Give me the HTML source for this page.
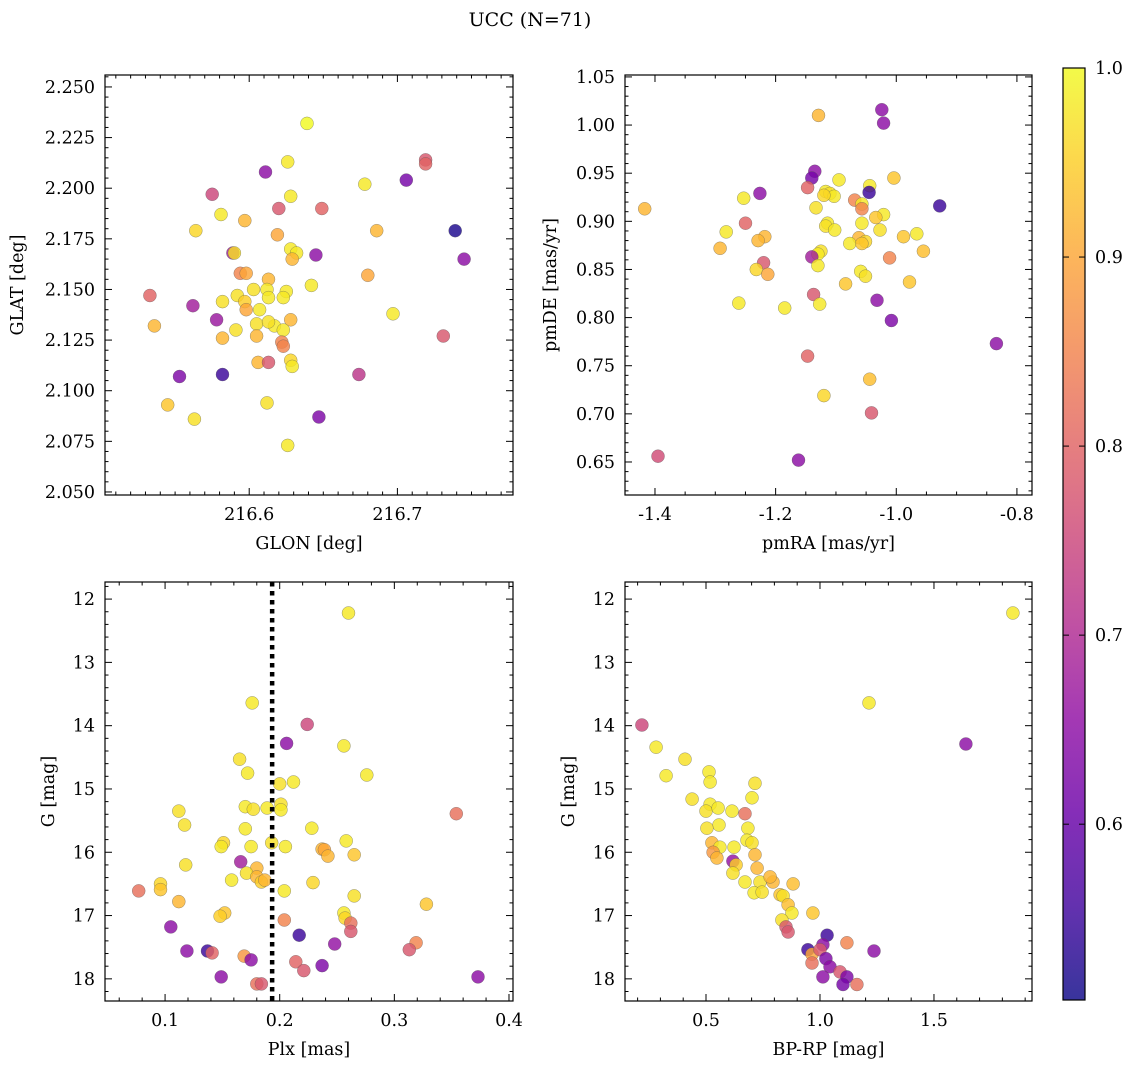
<!DOCTYPE html>
<html><head><meta charset="utf-8"><style>
html,body{margin:0;padding:0;background:#fff;}
svg{display:block;font-family:"DejaVu Serif","Liberation Serif",serif;}
</style></head><body>
<svg id="chart" width="1136" height="1068" viewBox="0 0 1136 1068" xmlns="http://www.w3.org/2000/svg">
<text x="530" y="26" text-anchor="middle" font-size="19">UCC (N=71)</text>
</svg>
<script>
// ---- Panel 1: GLON vs GLAT ----
const glon=[216.639,216.719,216.719,216.611,216.626,216.706,216.678,216.575,216.628,216.620,216.649,216.581,216.597,216.564,216.686,216.739,216.619,216.628,216.632,216.589,216.645,216.745,216.629,216.590,216.594,216.598,216.680,216.613,216.642,216.533,216.592,216.603,216.612,216.625,216.582,216.613,216.623,216.597,216.562,216.598,216.607,216.578,216.628,216.536,216.591,216.605,216.617,216.613,216.623,216.697,216.731,216.582,216.605,216.622,216.623,216.606,216.613,216.628,216.629,216.553,216.582,216.674,216.612,216.545,216.563,216.647,216.626];
const glat=[2.232,2.214,2.212,2.208,2.213,2.204,2.202,2.197,2.196,2.190,2.190,2.187,2.184,2.179,2.179,2.179,2.177,2.170,2.168,2.168,2.167,2.165,2.165,2.168,2.158,2.158,2.157,2.155,2.152,2.147,2.147,2.150,2.150,2.149,2.144,2.146,2.146,2.144,2.142,2.140,2.140,2.135,2.135,2.132,2.130,2.133,2.132,2.134,2.130,2.138,2.127,2.126,2.127,2.124,2.122,2.114,2.114,2.115,2.112,2.107,2.108,2.108,2.094,2.093,2.086,2.087,2.073];
const prob1=[1.0,0.78,0.8,0.65,0.98,0.62,0.98,0.75,0.98,0.78,0.8,0.98,0.92,0.96,0.92,0.52,0.9,0.98,0.98,0.68,0.65,0.65,0.92,0.97,0.85,0.9,0.9,0.92,0.98,0.8,0.97,0.97,0.98,0.98,0.97,0.98,0.98,0.95,0.68,0.9,0.98,0.67,0.92,0.92,0.97,0.97,0.98,0.97,0.98,0.98,0.78,0.92,0.92,0.85,0.85,0.92,0.78,0.96,0.98,0.63,0.55,0.72,0.97,0.94,0.97,0.63,0.98];
// ---- Panel 2: pmRA vs pmDE ----
const pmra=[-1.024,-1.021,-1.129,-1.135,-1.140,-1.147,-1.095,-1.044,-1.004,-1.045,-1.226,-1.253,-1.117,-1.110,-1.103,-1.120,-1.417,-0.928,-1.133,-1.069,-1.057,-1.057,-1.021,-1.034,-1.250,-1.114,-1.057,-1.117,-1.102,-1.027,-1.282,-0.966,-0.988,-1.218,-1.062,-1.051,-1.077,-1.057,-1.229,-1.292,-1.125,-1.130,-0.955,-1.140,-1.011,-1.220,-1.130,-1.232,-1.213,-1.059,-1.051,-1.084,-0.978,-1.137,-1.032,-1.261,-1.127,-1.185,-1.008,-0.834,-1.147,-1.044,-1.120,-1.041,-1.395,-1.162];
const pmde=[1.016,1.002,1.010,0.952,0.945,0.935,0.943,0.937,0.945,0.930,0.929,0.924,0.931,0.929,0.926,0.927,0.913,0.916,0.914,0.922,0.918,0.913,0.907,0.904,0.898,0.898,0.898,0.895,0.891,0.891,0.889,0.887,0.884,0.884,0.883,0.879,0.877,0.877,0.880,0.872,0.869,0.866,0.869,0.863,0.862,0.857,0.854,0.850,0.845,0.848,0.843,0.835,0.837,0.824,0.818,0.815,0.814,0.810,0.797,0.773,0.760,0.736,0.719,0.701,0.656,0.652];
const prob2=[0.65,0.65,0.92,0.65,0.62,0.8,0.98,0.98,0.94,0.55,0.65,0.98,0.98,0.97,0.98,0.96,0.92,0.55,0.97,0.85,0.98,0.85,0.98,0.94,0.8,0.98,0.98,0.97,0.98,0.97,0.98,0.98,0.94,0.92,0.92,0.96,0.98,0.94,0.92,0.92,0.97,0.98,0.93,0.68,0.85,0.78,0.98,0.96,0.9,0.98,0.97,0.94,0.94,0.78,0.65,0.98,0.98,0.98,0.63,0.65,0.8,0.93,0.96,0.78,0.76,0.65];
// ---- Panel 3: Plx vs G ----
const plx=[0.260,0.176,0.224,0.206,0.256,0.165,0.172,0.276,0.212,0.200,0.112,0.170,0.177,0.189,0.201,0.201,0.354,0.117,0.170,0.228,0.151,0.149,0.258,0.175,0.193,0.205,0.237,0.239,0.242,0.265,0.166,0.118,0.180,0.171,0.158,0.180,0.184,0.187,0.229,0.096,0.096,0.077,0.204,0.265,0.112,0.328,0.152,0.148,0.256,0.257,0.204,0.262,0.105,0.262,0.217,0.248,0.319,0.119,0.137,0.141,0.313,0.169,0.175,0.214,0.237,0.221,0.149,0.373,0.180,0.184];
const gmag3=[12.22,13.64,13.98,14.28,14.32,14.53,14.75,14.78,14.89,14.92,15.35,15.28,15.32,15.30,15.24,15.33,15.39,15.57,15.63,15.62,15.85,15.91,15.82,15.91,15.85,15.91,15.95,15.96,16.06,16.04,16.15,16.20,16.25,16.33,16.44,16.39,16.47,16.44,16.48,16.50,16.59,16.61,16.61,16.69,16.78,16.82,16.96,17.01,16.96,17.04,17.07,17.12,17.18,17.25,17.31,17.45,17.43,17.56,17.56,17.59,17.54,17.64,17.70,17.73,17.79,17.87,17.97,17.97,18.08,18.08];
const prob3=[0.98,0.98,0.75,0.65,0.98,0.97,0.98,0.98,0.98,0.97,0.97,0.98,0.97,0.98,0.97,0.98,0.82,0.97,0.98,0.98,0.96,0.98,0.98,0.98,0.97,0.98,0.92,0.9,0.92,0.94,0.68,0.97,0.92,0.97,0.98,0.92,0.95,0.92,0.96,0.96,0.94,0.82,0.98,0.97,0.92,0.94,0.94,0.95,0.98,0.96,0.85,0.82,0.65,0.78,0.55,0.66,0.85,0.65,0.55,0.8,0.78,0.88,0.65,0.8,0.63,0.78,0.65,0.65,0.82,0.78];
const plxMedian=0.1934;
// ---- Panel 4: BP-RP vs G ----
const bprp=[0.219,0.281,0.408,0.325,0.513,0.518,0.715,0.702,0.439,0.518,0.500,0.553,0.614,0.671,0.557,0.504,0.684,0.680,0.702,0.526,0.561,0.623,0.531,0.548,0.618,0.632,0.715,0.724,0.618,0.671,0.737,0.794,0.882,0.781,0.711,0.825,0.746,0.838,0.860,0.877,0.833,0.969,0.851,0.860,1.031,1.013,1.118,0.947,0.965,1.0,0.965,1.026,1.044,1.088,1.237,1.013,1.118,1.101,1.162,1.846,1.215,1.640];
const gmag4=[13.99,14.34,14.53,14.79,14.73,14.89,14.91,15.14,15.16,15.24,15.35,15.30,15.35,15.39,15.57,15.62,15.62,15.81,15.85,15.85,15.92,15.92,16.0,16.09,16.14,16.20,16.04,16.25,16.33,16.47,16.47,16.47,16.50,16.39,16.64,16.67,16.63,16.69,16.83,16.96,17.07,16.96,17.18,17.26,17.31,17.46,17.43,17.54,17.61,17.54,17.75,17.68,17.81,17.89,17.56,17.97,17.97,18.09,18.09,12.22,13.64,14.29];
const prob4=[0.75,0.98,0.97,0.98,0.98,0.98,0.97,0.98,0.97,0.98,0.97,0.98,0.98,0.82,0.98,0.97,0.98,0.98,0.97,0.92,0.98,0.98,0.88,0.92,0.66,0.95,0.92,0.92,0.97,0.98,0.97,0.92,0.93,0.92,0.98,0.94,0.97,0.97,0.93,0.98,0.97,0.94,0.78,0.78,0.55,0.65,0.85,0.55,0.9,0.78,0.82,0.63,0.65,0.78,0.65,0.65,0.63,0.62,0.82,0.98,0.98,0.65];
const cbTicks=[0.6,0.7,0.8,0.9,1.0];
const VMIN=0.507,VMAX=1.0;

const NS="http://www.w3.org/2000/svg";
const svg=document.getElementById('chart');
const FS=17.5;
function el(t,a,p){const e=document.createElementNS(NS,t);for(const k in a)e.setAttribute(k,a[k]);(p||svg).appendChild(e);return e;}
const stops=["#0d0887","#41049d","#6a00a8","#8f0da4","#b12a90","#cc4778","#e16462","#f2844b","#fca636","#fcce25","#f0f921"];
function hex(h){return [1,3,5].map(i=>parseInt(h.substr(i,2),16));}
function plasma(t){t=Math.max(0,Math.min(1,t));const f=t*10,i=Math.min(9,Math.floor(f)),r=f-i;const a=hex(stops[i]),b=hex(stops[i+1]);return 'rgb('+a.map((v,k)=>Math.round(v+(b[k]-v)*r)).join(',')+')';}
function cmap(v){return plasma((v-VMIN)/(VMAX-VMIN));}

function panel(o){
  const g=el('g',{});
  
  
  const X=v=>o.x0+(v-o.xmin)/(o.xmax-o.xmin)*(o.x1-o.x0);
  const Y=o.inv?(v=>o.y0+(v-o.ymin)/(o.ymax-o.ymin)*(o.y1-o.y0)):(v=>o.y1-(v-o.ymin)/(o.ymax-o.ymin)*(o.y1-o.y0));
  for(let i=0;i<o.xs.length;i++){
    const c=el('circle',{cx:X(o.xs[i]).toFixed(1),cy:Y(o.ys[i]).toFixed(1),r:6.5,fill:cmap(o.cs[i]),'fill-opacity':0.82,stroke:'#555','stroke-width':0.5,'stroke-opacity':0.6},g);
    
    
  }
  if(o.vline!==undefined){
    const l=el('line',{x1:X(o.vline),x2:X(o.vline),y1:o.y0,y2:o.y1,stroke:'#000','stroke-width':4.5,'stroke-dasharray':'4.5 4.5'},g);
    
    
  }
  const fr=el('rect',{x:o.x0,y:o.y0,width:o.x1-o.x0,height:o.y1-o.y0,fill:'none',stroke:'#000','stroke-width':1.2},g);
  
  
  const eps=1e-9;
  for(let v=Math.ceil(o.xmin/o.xmi-eps)*o.xmi;v<=o.xmax+eps;v+=o.xmi){
    const px=X(v),maj=Math.abs(v/o.xma-Math.round(v/o.xma))<1e-6,L=maj?7:3.5;
    el('line',{x1:px,x2:px,y1:o.y1,y2:o.y1-L,stroke:'#000','stroke-width':1},g);
    el('line',{x1:px,x2:px,y1:o.y0,y2:o.y0+L,stroke:'#000','stroke-width':1},g);
    if(maj){const t=el('text',{x:px,y:o.y1+25,'text-anchor':'middle','font-size':FS},g);t.textContent=(+v.toFixed(6)).toFixed(o.xd);
      }
  }
  for(let v=Math.ceil(o.ymin/o.ymi-eps)*o.ymi;v<=o.ymax+eps;v+=o.ymi){
    const py=Y(v),maj=Math.abs(v/o.yma-Math.round(v/o.yma))<1e-6,L=maj?7:3.5;
    el('line',{x1:o.x0,x2:o.x0+L,y1:py,y2:py,stroke:'#000','stroke-width':1},g);
    el('line',{x1:o.x1,x2:o.x1-L,y1:py,y2:py,stroke:'#000','stroke-width':1},g);
    if(maj){const t=el('text',{x:o.x0-10,y:py+6,'text-anchor':'end','font-size':FS},g);t.textContent=(+v.toFixed(6)).toFixed(o.yd);
      }
  }
  const xl=el('text',{x:(o.x0+o.x1)/2,y:o.y1+54,'text-anchor':'middle','font-size':FS},g);xl.textContent=o.xlab;
  
  const yx=o.ylx;
  const yl=el('text',{x:yx,y:(o.y0+o.y1)/2,'text-anchor':'middle','font-size':FS,transform:'rotate(-90 '+yx+' '+(o.y0+o.y1)/2+')'},g);yl.textContent=o.ylab;
  
}
panel({name:'glon-glat-panel',xs:glon,ys:glat,cs:prob1,x0:105,x1:513,y0:75,y1:495,xmin:216.5027,xmax:216.778,ymin:2.0485,ymax:2.2559,xma:0.1,xmi:0.01,yma:0.025,ymi:0.005,xd:1,yd:3,xlab:'GLON [deg]',ylab:'GLAT [deg]',ylx:23});
panel({name:'pm-panel',xs:pmra,ys:pmde,cs:prob2,x0:625,x1:1032,y0:75,y1:495,xmin:-1.4497,xmax:-0.775,ymin:0.6157,ymax:1.052,xma:0.2,xmi:0.05,yma:0.05,ymi:0.01,xd:1,yd:2,xlab:'pmRA [mas/yr]',ylab:'pmDE [mas/yr]',ylx:556});
panel({name:'plx-g-panel',xs:plx,ys:gmag3,cs:prob3,x0:105,x1:513,y0:582,y1:1001,xmin:0.0476,xmax:0.4035,ymin:11.73,ymax:18.35,inv:true,xma:0.1,xmi:0.02,yma:1,ymi:0.2,xd:1,yd:0,xlab:'Plx [mas]',ylab:'G [mag]',ylx:54,vline:plxMedian});
panel({name:'cmd-panel',xs:bprp,ys:gmag4,cs:prob4,x0:625,x1:1032,y0:582,y1:1001,xmin:0.1447,xmax:1.93,ymin:11.73,ymax:18.35,inv:true,xma:0.5,xmi:0.1,yma:1,ymi:0.2,xd:1,yd:0,xlab:'BP-RP [mag]',ylab:'G [mag]',ylx:574});

const cb=el('g',{});


const defs=el('defs',{},cb);
const lg=el('linearGradient',{id:'cbg',x1:0,y1:1,x2:0,y2:0},defs);
for(let i=0;i<=20;i++){el('stop',{offset:(i/20),'stop-color':plasma(i/20),'stop-opacity':0.82},lg);}
const CY0=68,CY1=1000,CX0=1063,CX1=1085;
el('rect',{x:CX0,y:CY0,width:CX1-CX0,height:CY1-CY0,fill:'url(#cbg)',stroke:'#000','stroke-width':1.2},cb);
const CBY=v=>CY1-(v-VMIN)/(VMAX-VMIN)*(CY1-CY0);
for(const v of cbTicks){
  const py=CBY(v);
  el('line',{x1:CX1,x2:CX1-6,y1:py,y2:py,stroke:'#000','stroke-width':1},cb);
  el('line',{x1:CX0,x2:CX0+6,y1:py,y2:py,stroke:'#000','stroke-width':1},cb);
  const t=el('text',{x:CX1+10,y:py+6,'font-size':FS},cb);t.textContent=v.toFixed(1);
  
}
</script>
</body></html>
